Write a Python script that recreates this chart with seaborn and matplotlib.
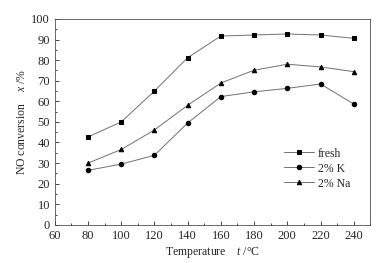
import matplotlib
matplotlib.use('Agg')
import matplotlib.pyplot as plt
import seaborn as sns
import pandas as pd
from matplotlib.ticker import MultipleLocator

temps = [80, 100, 120, 140, 160, 180, 200, 220, 240]
fresh = [42.7, 50.0, 65.0, 81.2, 91.7, 92.2, 92.7, 92.2, 90.6]
k2 = [26.5, 29.5, 33.8, 49.5, 62.3, 64.6, 66.3, 68.4, 58.7]
na2 = [30.0, 36.6, 46.1, 58.1, 68.9, 75.1, 78.0, 76.7, 74.4]
labels = ['fresh', '2% K', '2% Na']
markers = ['s', 'o', '^']

df = pd.DataFrame({'t': temps * 3,
                   'x': fresh + k2 + na2,
                   'sample': sum([[l] * len(temps) for l in labels], [])})

sns.set_style('ticks')
plt.rcParams['font.family'] = ['Liberation Serif', 'DejaVu Serif']
plt.rcParams['mathtext.fontset'] = 'custom'
plt.rcParams['mathtext.rm'] = 'Liberation Serif'
plt.rcParams['mathtext.it'] = 'Liberation Serif:italic'

fig, ax = plt.subplots(figsize=(3.89, 2.63), dpi=100)
fig.subplots_adjust(left=0.141, right=0.952, top=0.928, bottom=0.145)

for lab, m in zip(labels, markers):
    sub = df[df['sample'] == lab]
    sns.lineplot(data=sub, x='t', y='x', ax=ax, color='#707070', lw=0.7,
                 marker=m, markersize=3.2, markerfacecolor='black',
                 markeredgecolor='black', label=lab)

ax.set_xlim(60, 250)
ax.set_ylim(0, 100)
ax.xaxis.set_major_locator(MultipleLocator(20))
ax.xaxis.set_minor_locator(MultipleLocator(10))
ax.yaxis.set_major_locator(MultipleLocator(10))
ax.yaxis.set_minor_locator(MultipleLocator(5))
ax.tick_params(which='both', direction='in', labelsize=9, width=0.6)
ax.tick_params(which='major', length=3)
ax.tick_params(which='minor', length=1.5)
for s in ax.spines.values():
    s.set_linewidth(0.6)
    s.set_color('#505050')

ax.set_xlabel('Temperature    $t$ /°C', fontsize=8.5, labelpad=2)
ax.set_ylabel('NO conversion    $x$ /%', fontsize=8.5, labelpad=2)

leg = ax.legend(loc='lower right', bbox_to_anchor=(0.97, 0.12), frameon=False,
                fontsize=8.5, handlelength=2.6, labelspacing=0.25,
                handletextpad=0.3)

fig.savefig('out.png', dpi=100)
